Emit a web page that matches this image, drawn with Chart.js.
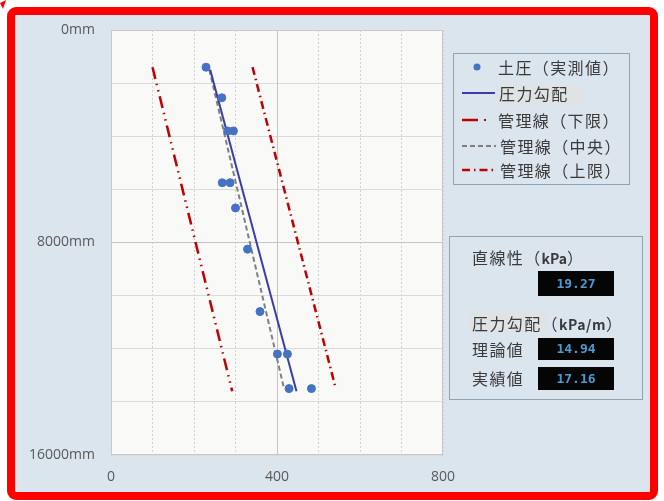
<!DOCTYPE html>
<html>
<head>
<meta charset="utf-8">
<script src="https://cdn.jsdelivr.net/npm/chart.js@4"></script>
<style>
body { margin: 0; background: #fff; }
#wrap { position: relative; width: 664px; height: 501px; overflow: hidden; }
#frame { position: absolute; left: 7px; top: 7px; width: 635px; height: 477px;
  border: 8px solid #ff0000; border-radius: 9px; background: #dae5ee; }
#chart { position: absolute; left: 0; top: 0; }
.box { position: absolute; border: 1px solid #8fa2b6; box-sizing: border-box; }
.txt { position: absolute; font-family: "Noto Sans CJK JP", sans-serif; font-size: 16px;
  line-height: 20px; color: #3a3a3a; white-space: nowrap; letter-spacing: 1.4px; }
.hl { position: absolute; background: #dfe3e3; }
.val { position: absolute; background: #050505; color: #4a9bd0; font-family: "DejaVu Sans Mono", monospace;
  font-size: 13px; font-weight: bold; text-align: center; }
#marks { position: absolute; left: 0; top: 0; }
</style>
</head>
<body>
<div id="wrap">
  <div id="frame"></div>
  <canvas id="chart" width="664" height="501"></canvas>

  <!-- legend -->
  <div class="box" style="left:453px;top:53px;width:177px;height:132px;"></div>
  <div class="hl" style="left:498px;top:85px;width:86px;height:20px;"></div>
  <svg id="marks" width="664" height="501">
    <polygon points="0,3 6,0 3,9" fill="#ff0000"/>
    <circle cx="477" cy="67" r="3.5" fill="#4472c4"/>
    <line x1="462" y1="93" x2="495" y2="93" stroke="#3c3ca8" stroke-width="2"/>
    <line x1="462" y1="120" x2="478" y2="120" stroke="#c00000" stroke-width="2.5"/>
    <line x1="484" y1="120" x2="486" y2="120" stroke="#c00000" stroke-width="2"/>
    <line x1="462" y1="146" x2="496" y2="146" stroke="#7f7f7f" stroke-width="2" stroke-dasharray="5,3"/>
    <line x1="462" y1="170" x2="496" y2="170" stroke="#c00000" stroke-width="2.5" stroke-dasharray="8,4,1.5,4"/>
  </svg>
  <div class="txt" style="left:498px;top:57px;">土圧（実測値）</div>
  <div class="txt" style="left:499px;top:83px;">圧力勾配</div>
  <div class="txt" style="left:498px;top:110px;">管理線（下限）</div>
  <div class="txt" style="left:500px;top:136px;">管理線（中央）</div>
  <div class="txt" style="left:500px;top:160px;">管理線（上限）</div>

  <!-- info box -->
  <div class="box" style="left:449px;top:236px;width:194px;height:164px;"></div>
  <div class="txt" style="left:472px;top:247px;">直線性（<b style="font-size:14px;letter-spacing:0">kPa</b>）</div>
  <div class="val" style="left:538px;top:271px;width:76px;height:25px;line-height:25px;">19.27</div>
  <div class="hl" style="left:468px;top:313px;width:80px;height:19px;"></div>
  <div class="txt" style="left:472px;top:313px;">圧力勾配（<b style="font-size:14px;letter-spacing:0.5px">kPa/m</b>）</div>
  <div class="txt" style="left:472px;top:339px;">理論値</div>
  <div class="val" style="left:538px;top:338px;width:76px;height:22px;line-height:22px;">14.94</div>
  <div class="txt" style="left:472px;top:368px;">実績値</div>
  <div class="val" style="left:538px;top:367px;width:76px;height:23px;line-height:23px;">17.16</div>
</div>

<script>
// measured earth pressure (kPa) vs depth (mm)
const depthMeasured = [1400, 2550, 3800, 3800, 5750, 5750, 6700, 8250, 10600, 12200, 12200, 13500, 13500];
const pressMeasured = [229, 267, 281, 295, 268, 287, 300, 329, 359, 401, 425, 429, 483];

// fitted pressure gradient line
const depthGradient = [1500, 13600];
const pressGradient = [239, 447];

// control lines
const depthLower = [1400, 13600];
const pressLower = [100, 292];
const depthCenter = [1500, 13500];
const pressCenter = [237, 417];
const depthUpper = [1400, 13400];
const pressUpper = [341, 540];

const yTicksShown = [0, 8000, 16000];
const xTicksShown = [0, 400, 800];

const pts = (xs, ys) => xs.map((x, i) => ({ x: x, y: ys[i] }));

const plotBg = {
    id: 'plotBg',
    beforeDraw(chart) {
        const a = chart.chartArea;
        const c = chart.ctx;
        c.save();
        c.fillStyle = '#f9f9f7';
        c.fillRect(a.left, a.top, a.right - a.left, a.bottom - a.top);
        c.restore();
    },
    beforeDatasetsDraw(chart) {
        const a = chart.chartArea;
        const c = chart.ctx;
        const x400 = chart.scales.x.getPixelForValue(400);
        c.save();
        c.strokeStyle = '#c4c4c4';
        c.lineWidth = 1;
        c.beginPath();
        c.moveTo(Math.round(x400) + 0.5, a.top);
        c.lineTo(Math.round(x400) + 0.5, a.bottom);
        c.stroke();
        c.strokeStyle = '#c8c8c8';
        c.strokeRect(a.left + 0.5, a.top + 0.5, a.right - a.left - 1, a.bottom - a.top - 1);
        c.restore();
    }
};

new Chart(document.getElementById('chart'), {
    type: 'scatter',
    data: {
        datasets: [
            {
                label: '土圧（実測値）',
                data: pts(pressMeasured, depthMeasured),
                backgroundColor: '#4472c4',
                borderColor: '#4472c4',
                pointRadius: 4,
                order: 0
            },
            {
                label: '圧力勾配',
                data: pts(pressGradient, depthGradient),
                showLine: true,
                borderColor: '#3c3ca8',
                borderWidth: 2,
                pointRadius: 0,
                order: 1
            },
            {
                label: '管理線（下限）',
                data: pts(pressLower, depthLower),
                showLine: true,
                borderColor: '#c00000',
                borderWidth: 2.5,
                borderDash: [12, 5, 1.5, 5, 1.5, 5],
                pointRadius: 0,
                order: 2
            },
            {
                label: '管理線（中央）',
                data: pts(pressCenter, depthCenter),
                showLine: true,
                borderColor: '#7f7f7f',
                borderWidth: 2,
                borderDash: [5, 3],
                pointRadius: 0,
                order: 2
            },
            {
                label: '管理線（上限）',
                data: pts(pressUpper, depthUpper),
                showLine: true,
                borderColor: '#c00000',
                borderWidth: 2.5,
                borderDash: [8, 4, 1.5, 4],
                pointRadius: 0,
                order: 2
            }
        ]
    },
    options: {
        responsive: false,
        animation: false,
        layout: {
            autoPadding: false,
            padding: { left: 0, top: 30, right: 221, bottom: 16 }
        },
        plugins: {
            legend: { display: false },
            tooltip: { enabled: false }
        },
        scales: {
            x: {
                type: 'linear',
                min: 0,
                max: 800,
                afterFit: s => { s.height = 30; },
                ticks: {
                    stepSize: 100,
                    autoSkip: false,
                    maxRotation: 0,
                    padding: 14,
                    color: '#595959',
                    font: { family: 'Open Sans', size: 14 },
                    callback: v => xTicksShown.includes(v) ? String(v) : ''
                },
                grid: {
                    drawTicks: false,
                    color: ctx => ctx.tick && ctx.tick.value === 400 ? 'rgba(0,0,0,0)' : '#d2d2d2'
                },
                border: { display: false, dash: [2, 2] }
            },
            y: {
                type: 'linear',
                reverse: true,
                min: 0,
                max: 16000,
                afterFit: s => { s.width = 111; },
                ticks: {
                    stepSize: 2000,
                    autoSkip: false,
                    padding: 16,
                    color: '#595959',
                    font: { family: 'Open Sans', size: 14 },
                    callback: v => yTicksShown.includes(v) ? v + 'mm' : ''
                },
                grid: {
                    drawTicks: false,
                    color: ctx => ctx.tick && ctx.tick.value === 8000 ? '#c4c4c4' : '#dadada'
                },
                border: { display: false }
            }
        }
    },
    plugins: [plotBg]
});
</script>
</body>
</html>
